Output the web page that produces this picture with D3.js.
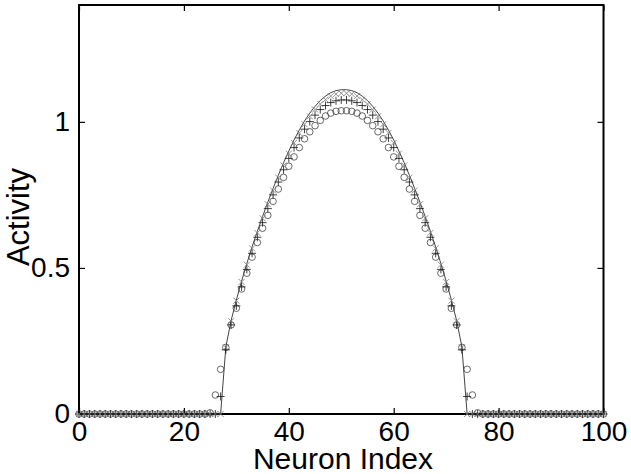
<!DOCTYPE html>
<html>
<head>
<meta charset="utf-8">
<script src="https://cdn.jsdelivr.net/npm/d3@7"></script>
<style>
  body { margin: 0; background: #fff; }
  svg { display: block; font-family: "Liberation Sans", Arial, sans-serif; }
</style>
</head>
<body>
<div id="chart"></div>
<script>
// neuron index 0..100
const neuronIndex = d3.range(0, 101);

// solid line
const lineValues = [
  0, 0, 0, 0, 0, 0, 0, 0, 0, 0, 0, 0, 0, 0, 0, 0, 0, 0, 0, 0,
  0, 0, 0, 0, 0, 0, 0, 0,
  0.23, 0.32, 0.39, 0.455, 0.515, 0.572, 0.625, 0.676, 0.725, 0.772, 0.817,
  0.86, 0.90, 0.938, 0.972, 1.003, 1.03, 1.053, 1.073, 1.088, 1.10, 1.107, 1.11,
  1.11, 1.107, 1.10, 1.088, 1.073, 1.053, 1.03, 1.003, 0.972, 0.938, 0.90,
  0.86, 0.817, 0.772, 0.725, 0.676, 0.625, 0.572, 0.515, 0.455, 0.39, 0.32, 0.23,
  0, 0, 0, 0, 0, 0, 0, 0, 0, 0, 0, 0, 0, 0, 0, 0, 0, 0, 0, 0,
  0, 0, 0, 0, 0, 0, 0
];

// 'x' markers
const crossValues = [
  0, 0, 0, 0, 0, 0, 0, 0, 0, 0, 0, 0, 0, 0, 0, 0, 0, 0, 0, 0,
  0, 0, 0, 0, 0, 0, 0, 0,
  0.228, 0.318, 0.388, 0.452, 0.511, 0.567, 0.62, 0.67, 0.718, 0.765, 0.809,
  0.851, 0.891, 0.928, 0.962, 0.992, 1.019, 1.042, 1.061, 1.076, 1.088, 1.095, 1.098,
  1.098, 1.095, 1.088, 1.076, 1.061, 1.042, 1.019, 0.992, 0.962, 0.928, 0.891,
  0.851, 0.809, 0.765, 0.718, 0.67, 0.62, 0.567, 0.511, 0.452, 0.388, 0.318, 0.228,
  0, 0, 0, 0, 0, 0, 0, 0, 0, 0, 0, 0, 0, 0, 0, 0, 0, 0, 0, 0,
  0, 0, 0, 0, 0, 0, 0
];

// '+' markers
const plusValues = [
  0, 0, 0, 0, 0, 0, 0, 0, 0, 0, 0, 0, 0, 0, 0, 0, 0, 0, 0, 0,
  0, 0, 0, 0, 0, 0, 0,
  0.06, 0.22, 0.305, 0.37, 0.435, 0.495, 0.55, 0.605, 0.655, 0.703, 0.75, 0.794,
  0.836, 0.875, 0.912, 0.945, 0.975, 1.001, 1.023, 1.042, 1.056, 1.066, 1.072, 1.075,
  1.075, 1.072, 1.066, 1.056, 1.042, 1.023, 1.001, 0.975, 0.945, 0.912, 0.875, 0.836,
  0.794, 0.75, 0.703, 0.655, 0.605, 0.55, 0.495, 0.435, 0.37, 0.305, 0.22, 0.06,
  0, 0, 0, 0, 0, 0, 0, 0, 0, 0, 0, 0, 0, 0, 0, 0, 0, 0, 0, 0,
  0, 0, 0, 0, 0, 0
];

// 'o' markers
const circleValues = [
  0, 0, 0, 0, 0, 0, 0, 0, 0, 0, 0, 0, 0, 0, 0, 0, 0, 0, 0, 0,
  0, 0, 0, 0, 0,
  0.004, 0.065, 0.153, 0.228, 0.305, 0.362, 0.428, 0.482, 0.537, 0.587, 0.636, 0.68,
  0.728, 0.77, 0.81, 0.848, 0.88, 0.912, 0.942, 0.966, 0.987, 1.005, 1.02, 1.03, 1.036, 1.038,
  1.038, 1.036, 1.03, 1.02, 1.005, 0.987, 0.966, 0.942, 0.912, 0.88, 0.848, 0.81, 0.77,
  0.728, 0.68, 0.636, 0.587, 0.537, 0.482, 0.428, 0.362, 0.305, 0.228, 0.153, 0.065, 0.004,
  0, 0, 0, 0, 0, 0, 0, 0, 0, 0, 0, 0, 0, 0, 0, 0, 0, 0, 0, 0,
  0, 0, 0, 0
];

const xTicks = [0, 20, 40, 60, 80, 100];
const yTicks = [0, 0.5, 1];

const width = 631;
const height = 474;
const plot = { left: 79, right: 603.5, top: 5, bottom: 414 };

const svg = d3.select("#chart")
  .append("svg")
  .attr("width", width)
  .attr("height", height);

const x = d3.scaleLinear().domain([0, 100]).range([plot.left, plot.right]);
const y = d3.scaleLinear().domain([0, 1.4]).range([plot.bottom, plot.top]);

// axes with inward ticks
const xAxis = svg.append("g")
  .attr("transform", `translate(0,${plot.bottom})`)
  .call(d3.axisBottom(x).tickValues(xTicks).tickSize(-6).tickPadding(7)
    .tickFormat(d3.format("~g")));
const xAxisTop = svg.append("g")
  .attr("transform", `translate(0,${plot.top})`)
  .call(d3.axisTop(x).tickValues(xTicks).tickSize(-6).tickFormat(""));
const yAxis = svg.append("g")
  .attr("transform", `translate(${plot.left},0)`)
  .call(d3.axisLeft(y).tickValues(yTicks).tickSize(-6).tickPadding(9)
    .tickFormat(d3.format("~g")));
const yAxisRight = svg.append("g")
  .attr("transform", `translate(${plot.right},0)`)
  .call(d3.axisRight(y).tickValues(yTicks).tickSize(-6).tickFormat(""));

[xAxis, xAxisTop, yAxis, yAxisRight].forEach((g) => {
  g.select(".domain").remove();
  g.selectAll(".tick line").attr("stroke", "#000").attr("stroke-width", 1.2);
  g.selectAll(".tick text")
    .attr("fill", "#000")
    .style("font-size", "28px")
    .style("font-family", "'Liberation Sans', Arial, sans-serif");
});

// box frame
svg.append("rect")
  .attr("x", plot.left)
  .attr("y", plot.top)
  .attr("width", plot.right - plot.left)
  .attr("height", plot.bottom - plot.top)
  .attr("fill", "none")
  .attr("stroke", "#000")
  .attr("stroke-width", 2);

// solid line
svg.append("path")
  .datum(neuronIndex)
  .attr("fill", "none")
  .attr("stroke", "#444")
  .attr("stroke-width", 1)
  .attr("d", d3.line().x((i) => x(i)).y((i) => y(lineValues[i])));

// circles
svg.append("g")
  .selectAll("circle")
  .data(neuronIndex)
  .join("circle")
  .attr("cx", (i) => x(i))
  .attr("cy", (i) => y(circleValues[i]))
  .attr("r", 3.3)
  .attr("fill", "none")
  .attr("stroke", "#444")
  .attr("stroke-width", 0.8);

// plus markers
const p = 4;
svg.append("g")
  .selectAll("path")
  .data(neuronIndex)
  .join("path")
  .attr("d", (i) => {
    const cx = x(i), cy = y(plusValues[i]);
    return `M${cx - p},${cy}H${cx + p}M${cx},${cy - p}V${cy + p}`;
  })
  .attr("stroke", "#111")
  .attr("stroke-width", 0.8);

// cross markers
const c = 3;
svg.append("g")
  .selectAll("path")
  .data(neuronIndex)
  .join("path")
  .attr("d", (i) => {
    const cx = x(i), cy = y(crossValues[i]);
    return `M${cx - c},${cy - c}L${cx + c},${cy + c}M${cx - c},${cy + c}L${cx + c},${cy - c}`;
  })
  .attr("stroke", "#777")
  .attr("stroke-width", 0.8);

// axis titles
svg.append("text")
  .attr("x", 343)
  .attr("y", 469)
  .attr("text-anchor", "middle")
  .style("font-size", "30px")
  .text("Neuron Index");

svg.append("text")
  .attr("transform", "translate(29,217) rotate(-90)")
  .attr("text-anchor", "middle")
  .style("font-size", "31px")
  .text("Activity");
</script>
</body>
</html>
